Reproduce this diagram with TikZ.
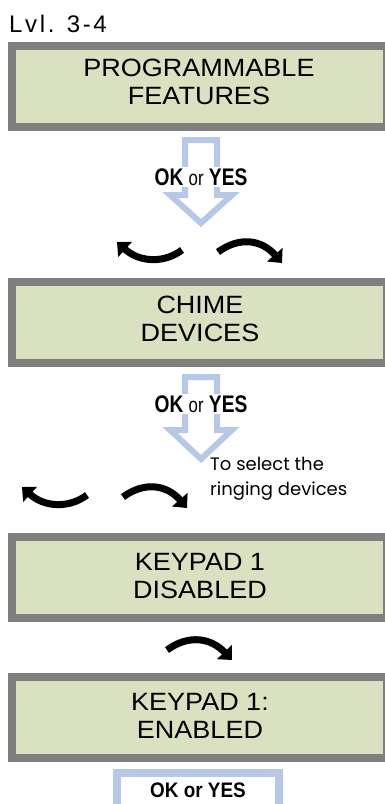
\documentclass[tikz,border=0pt]{standalone}
\usepackage{fontspec}
\setmainfont{Liberation Sans}
\newfontfamily\selfont{Poppins}
\newfontfamily\lvlfont{Liberation Sans}[LetterSpace=11]
\usetikzlibrary{arrows.meta}
\definecolor{lcdgreen}{RGB}{217,225,193}
\definecolor{lcdgray}{RGB}{127,127,127}
\definecolor{okblue}{RGB}{182,200,230}
\newcommand{\wideline}[1]{\scalebox{1.08}[1]{#1}}
\newcommand{\okoryes}{\scalebox{0.8}[1]{\textbf{OK} {\fontsize{21}{24}\selectfont or} \textbf{YES}}}
\begin{document}
\begin{tikzpicture}[x=1pt,y=-1pt,
  lcd/.style={draw=lcdgray, fill=lcdgreen, line width=8pt, minimum width=375pt, minimum height=81pt, inner sep=0pt},
  lcdtext/.style={font=\fontsize{25}{28}\selectfont, align=center, inner sep=0pt},
  okarrow/.style={draw=okblue, line width=6pt, line join=miter, fill=white},
  oktext/.style={fill=white, inner sep=1.5pt, font=\fontsize{24}{26}\selectfont},
  curv/.style={line width=7pt, -{Triangle[length=11pt,width=20pt]}}
]
\useasboundingbox (0,0) rectangle (385,804);
\clip (0,0) rectangle (385,804);

% level label
\node[anchor=base west, inner sep=0pt, font=\lvlfont\fontsize{24}{26}\selectfont] (lvl) at (9,32) {Lvl. 3-4};

% LCD boxes
\node[lcd] (b1) at (199.5,86) {};
\node[lcdtext] (t1) at (199,82) {\wideline{PROGRAMMABLE}\\\wideline{FEATURES}};
\node[lcd] (b2) at (199.5,322.5) {};
\node[lcdtext] (t2) at (200,318.5) {\wideline{CHIME}\\\wideline{DEVICES}};
\node[lcd] (b3) at (199.5,577.5) {};
\node[lcdtext] (t3) at (200,576) {\wideline{KEYPAD 1}\\\wideline{DISABLED}};
\node[lcd] (b4) at (199.5,717) {};
\node[lcdtext] (t4) at (200,716) {\wideline{KEYPAD 1:}\\\wideline{ENABLED}};

% hollow arrow 1
\draw[okarrow] (185,140) -- (217,140) -- (217,195) -- (232,195) -- (201,223) -- (170,195) -- (185,195) -- cycle;
\node[oktext] (ok1) at (201,177) {\okoryes};

% hollow arrow 2
\draw[okarrow] (185,377) -- (217,377) -- (217,430) -- (232,430) -- (201,459) -- (170,430) -- (185,430) -- cycle;
\node[oktext] (ok2) at (201,404) {\okoryes};

% curved arrows row 1
\coordinate (l1s) at (182,250);
\coordinate (l1e) at (117,242);
\coordinate (r1s) at (218,252);
\coordinate (r1e) at (282,263);
\draw[curv] (l1s) .. controls (165,263) and (140,263) .. (l1e);
\draw[curv] (r1s) .. controls (240,236) and (262,240) .. (r1e);

% curved arrows row 2
\coordinate (l2s) at (87,495);
\coordinate (l2e) at (22,487);
\coordinate (r2s) at (123,497);
\coordinate (r2e) at (187,508);
\draw[curv] (l2s) .. controls (70,508) and (45,508) .. (l2e);
\draw[curv] (r2s) .. controls (145,481) and (167,485) .. (r2e);

\node[anchor=base west, inner sep=0pt, align=left, font=\selfont\fontsize{18}{25}\selectfont] (sel) at (210,495) {To select the\\ringing devices};

% curved arrow row 3
\coordinate (r3s) at (167,650);
\coordinate (r3e) at (232,660);
\draw[curv] (r3s) .. controls (189,634) and (211,638) .. (r3e);

% bottom OK box
\node[draw=okblue, line width=8pt, minimum width=162pt, minimum height=70pt, anchor=north, inner sep=0pt] (okb) at (198,769) {};
\node[inner sep=0pt, font=\bfseries\fontsize{21}{24}\selectfont] (okt) at (198,790) {\scalebox{0.9}[1]{OK or YES}};
\end{tikzpicture}
\end{document}
